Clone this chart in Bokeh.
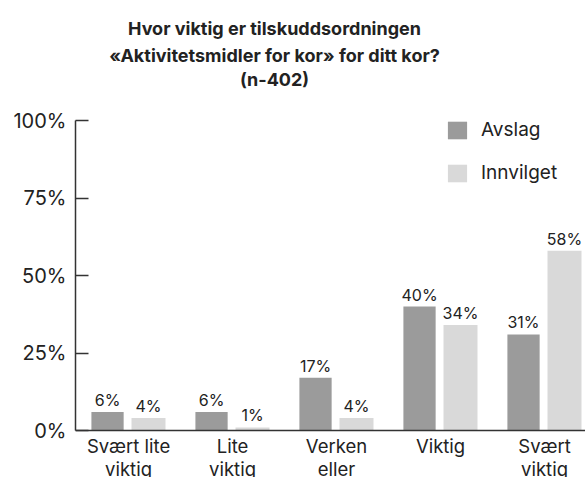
from bokeh.plotting import figure
from bokeh.models import (Range1d, FixedTicker, ColumnDataSource, Legend, LegendItem,
                          Label, Span)
from bokeh.core.properties import value
from bokeh.embed import file_html
from bokeh.resources import INLINE

title_lines = ["Hvor viktig er tilskuddsordningen",
               "«Aktivitetsmidler for kor» for ditt kor?",
               "(n-402)"]
categories = ["Svært lite\nviktig", "Lite\nviktig", "Verken\neller", "Viktig", "Svært\nviktig"]
series_names = ["Avslag", "Innvilget"]
avslag = [6, 6, 17, 40, 31]
innvilget = [4, 1, 4, 34, 58]
y_ticks = [0, 25, 50, 75, 100]
y_tick_labels = ["0%", "25%", "50%", "75%", "100%"]

FONT = "Inter"
TXT = "#222222"
AXC = "#333333"
C_AVS = "#9b9b9b"
C_INN = "#d9d9d9"

idx = list(range(len(categories)))
centers = [i + 0.5 for i in idx]

# frame spans the full height; the value axis is bounded to 0..100
p = figure(width=585, height=477, output_backend="svg", toolbar_location=None,
           x_range=Range1d(-0.01, 4.894), y_range=Range1d(-15.16, 138.71),
           min_border_left=75, min_border_right=0, min_border_top=0, min_border_bottom=0)
p.outline_line_color = None
p.grid.visible = False
p.background_fill_color = "white"
p.border_fill_color = "white"
p.xaxis.visible = False

src_a = ColumnDataSource(dict(x=[c - 0.202 for c in centers], top=avslag,
                              lab=[f"{v}%" for v in avslag]))
src_i = ColumnDataSource(dict(x=[c + 0.192 for c in centers], top=innvilget,
                              lab=[f"{v}%" for v in innvilget]))

ra = p.vbar(x="x", top="top", bottom=0, width=0.31, source=src_a, fill_color=C_AVS, line_color=None)
ri = p.vbar(x="x", top="top", bottom=0, width=0.327, source=src_i, fill_color=C_INN, line_color=None)

for s in (src_a, src_i):
    p.text(x="x", y="top", text="lab", source=s, text_align="center", text_baseline="bottom",
           y_offset=-2, text_font=value(FONT), text_font_size="16px", text_color=TXT)

# baseline (category axis line)
p.add_layout(Span(location=0, dimension="width", line_color=AXC, line_width=1.5))

# category labels
cat_src = ColumnDataSource(dict(x=centers, y=[0] * len(centers), text=categories))
p.text(x="x", y="y", text="text", source=cat_src, y_offset=4,
       text_align="center", text_baseline="top", text_font=value(FONT),
       text_font_size="18.5px", text_color=TXT, text_line_height=1.06)

# y axis
ya = p.yaxis[0]
ya.bounds = (0, 100)
ya.ticker = FixedTicker(ticks=y_ticks)
ya.major_label_overrides = {t: l for t, l in zip(y_ticks, y_tick_labels)}
ya.major_tick_in = 13
ya.major_tick_out = 0
ya.minor_tick_line_color = None
ya.axis_line_color = AXC
ya.axis_line_width = 1.5
ya.major_tick_line_color = AXC
ya.major_tick_line_width = 1.5
ya.major_label_standoff = 9
ya.major_label_text_font = FONT
ya.major_label_text_font_size = "20px"
ya.major_label_text_color = TXT

legend = Legend(items=[LegendItem(label=series_names[0], renderers=[ra]),
                       LegendItem(label=series_names[1], renderers=[ri])],
                location=(370, 293), orientation="vertical",
                glyph_width=24, glyph_height=22, label_height=22, spacing=20, label_standoff=12,
                padding=0, margin=0, border_line_color=None, background_fill_alpha=0,
                label_text_font=FONT, label_text_font_size="19px", label_text_color=TXT)
p.add_layout(legend)

title_y = [449.5, 422, 398]
for t, yy in zip(title_lines, title_y):
    p.add_layout(Label(x=199, y=yy, x_units="screen", y_units="screen", text=t,
                       text_align="center", text_baseline="alphabetic",
                       text_font=FONT, text_font_size="18px", text_font_style="bold",
                       text_color=TXT))

open("out.html", "w").write(file_html(p, INLINE))
